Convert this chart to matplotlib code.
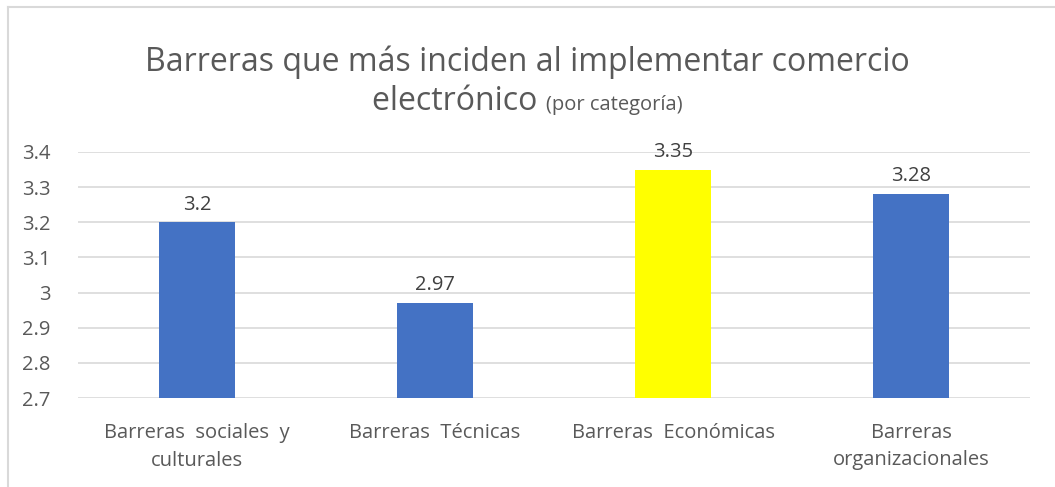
import matplotlib.pyplot as plt
from matplotlib.lines import Line2D

categories = ['Barreras  sociales  y\nculturales', 'Barreras  Técnicas',
              'Barreras  Económicas', 'Barreras\norganizacionales']
values = [3.2, 2.97, 3.35, 3.28]
labels = ['3.2', '2.97', '3.35', '3.28']
colors = ['#4472C4', '#4472C4', '#FFFF00', '#4472C4']
yticks = [2.7, 2.8, 2.9, 3.0, 3.1, 3.2, 3.3, 3.4]
ytick_labels = ['2.7', '2.8', '2.9', '3', '3.1', '3.2', '3.3', '3.4']

plt.rcParams['font.family'] = ['Open Sans', 'DejaVu Sans']
txt = '#595959'

W, H = 1055, 487
fig = plt.figure(figsize=(W / 100, H / 100), dpi=100)
ax = fig.add_axes([78 / W, 1 - 398 / H, (1030 - 78) / W, (398 - 152) / H])

x = range(len(values))
ax.bar(x, [v - 2.7 for v in values], bottom=2.7, width=0.32, color=colors, zorder=3)
for i, v in enumerate(values):
    ax.text(i, v + 0.022, labels[i], ha='center', va='bottom', fontsize=14.5, color='#404040')

ax.set_ylim(2.7, 3.4)
ax.set_xlim(-0.5, 3.5)
ax.set_yticks(yticks)
ax.set_yticklabels(ytick_labels)
ax.set_xticks(list(x))
ax.set_xticklabels(categories, linespacing=1.5)
ax.tick_params(axis='both', length=0, labelsize=14.5, colors=txt)
ax.tick_params(axis='y', pad=20)
ax.tick_params(axis='x', pad=18)
ax.grid(axis='y', color='#D9D9D9', linewidth=1.2, zorder=0)
for s in ax.spines.values():
    s.set_visible(False)

# title, two lines, second line has a smaller suffix
fig.text(0.5, 1 - 62 / H, 'Barreras que más inciden al implementar comercio',
         ha='center', va='center', fontsize=23, color=txt)
fig.canvas.draw()
r = fig.canvas.get_renderer()
t1 = fig.text(0, 1 - 110 / H, 'electrónico ', ha='left', va='baseline', fontsize=23, color=txt)
t2 = fig.text(0, 1 - 110 / H, '(por categoría)', ha='left', va='baseline', fontsize=14.5, color=txt)
w1 = t1.get_window_extent(r).width
w2 = t2.get_window_extent(r).width
start = (W - w1 - w2) / 2
t1.set_x(start / W)
t2.set_x((start + w1) / W)

# chart frame
fig.add_artist(Line2D([8 / W, 1], [1 - 7 / H, 1 - 7 / H], transform=fig.transFigure, color='#D9D9D9', lw=1.5))
fig.add_artist(Line2D([8 / W, 8 / W], [0, 1 - 7 / H], transform=fig.transFigure, color='#D9D9D9', lw=1.5))

fig.savefig('out.png', dpi=100)
